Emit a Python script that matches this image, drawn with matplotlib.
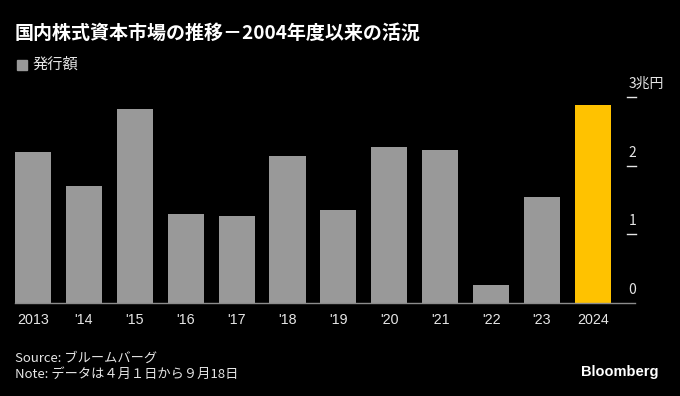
import matplotlib

matplotlib.use("Agg")
import matplotlib.pyplot as plt
import matplotlib.transforms as mtransforms

plt.rcParams["font.family"] = ["Noto Sans CJK JP", "DejaVu Sans"]

# 発行額 (兆円), 年度
YEARS = ["2013", "'14", "'15", "'16", "'17", "'18", "'19", "'20", "'21", "'22", "'23", "2024"]
VALUES = [2.20, 1.70, 2.82, 1.30, 1.27, 2.14, 1.35, 2.27, 2.23, 0.26, 1.54, 2.89]
YTICKS = [0, 1, 2, 3]
YTICK_LABELS = ["0", "1", "2", "3兆円"]

BG = "#000000"
GRAY = "#999999"
HIGHLIGHT = "#FFC200"
TEXT = "#E6E6E6"

fig = plt.figure(figsize=(6.8, 3.96), dpi=100, facecolor=BG)
ax = fig.add_axes([0.022, 0.2348, 0.912, 0.5376], facecolor=BG)

colors = [GRAY] * (len(VALUES) - 1) + [HIGHLIGHT]
x = list(range(len(VALUES)))
ax.bar(x, VALUES, width=0.71, color=colors, zorder=2)

ax.set_xlim(-0.355, 11.83)
ax.set_ylim(0, 3.1)
for s in ["top", "left", "right"]:
    ax.spines[s].set_visible(False)
ax.spines["bottom"].set_color("#8c8c8c")
ax.spines["bottom"].set_linewidth(1.0)
ax.spines["bottom"].set_zorder(3)

ax.set_xticks(x)
ax.set_xticklabels(YEARS, color=TEXT, fontsize=10.3, family=["Liberation Sans", "DejaVu Sans"])
ax.tick_params(axis="x", length=0, pad=7)

# right-side value axis: short dash marks with labels above them
ax.set_yticks([])
trans = mtransforms.blended_transform_factory(ax.transAxes, ax.transData)
for v, lab in zip(YTICKS, YTICK_LABELS):
    if v > 0:
        ax.plot([0.987, 1.002], [v, v], transform=trans, color=TEXT, lw=1.0, clip_on=False)
    ax.text(0.989, v + 0.19, lab, transform=trans, color=TEXT, fontsize=10,
            ha="left", va="center")

fig.text(0.022, 0.917, "国内株式資本市場の推移－2004年度以来の活況", color="white",
         fontsize=13.7, fontweight="bold", ha="left", va="center")
fig.patches.append(plt.Rectangle((17 / 680, 1 - 70 / 396), 10 / 680, 10 / 396,
                                 transform=fig.transFigure, color=GRAY))
fig.text(33 / 680, 1 - 64 / 396, "発行額", color=TEXT, fontsize=11, ha="left", va="center")

fig.text(0.022, 1 - 358 / 396, "Source: ブルームバーグ", color=TEXT, fontsize=9.5,
         ha="left", va="center")
fig.text(0.022, 1 - 374 / 396, "Note: データは４月１日から９月18日", color=TEXT, fontsize=9.5,
         ha="left", va="center")
fig.text(659 / 680, 1 - 372 / 396, "Bloomberg", color="white", fontsize=10.5,
         fontweight="bold", ha="right", va="center",
         family=["Liberation Sans", "DejaVu Sans"])

fig.savefig("out.png", dpi=100, facecolor=BG)
